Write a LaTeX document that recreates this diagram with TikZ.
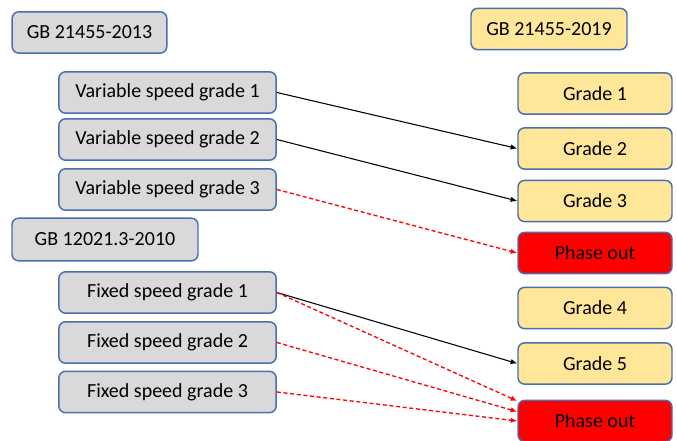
\documentclass[tikz,border=0pt]{standalone}
\usepackage{fontspec}
\setmainfont{Carlito}
\usepackage{xcolor}
\usetikzlibrary{arrows.meta}

\definecolor{boxblue}{HTML}{4A6FAE}
\definecolor{oldgray}{HTML}{D9D9D9}
\definecolor{newyellow}{HTML}{FFE699}
\definecolor{outred}{HTML}{FF0000}

\begin{document}
\begin{tikzpicture}[x=0.75pt,y=-0.75pt,
    box/.style={shape=rectangle,rounded corners=5pt,draw=boxblue,line width=1.1pt,
        inner sep=0pt,minimum height=31pt,font=\fontsize{15}{18}\selectfont},
    oldbox/.style={box,fill=oldgray,minimum width=163pt},
    newbox/.style={box,fill=newyellow,minimum width=115.5pt},
    outbox/.style={box,fill=outred,minimum width=115.5pt},
    keepline/.style={-{Latex[length=5pt,width=4pt]},black,line width=0.8pt},
    dropline/.style={-{Latex[length=5pt,width=4pt]},outred,line width=1pt,dash pattern=on 3pt off 2pt}]
                    \useasboundingbox (0,0) rectangle (677,441);

                    % old standards
                    \node[box,fill=oldgray,minimum width=116pt] (std13) at (89.5,32.5) {GB 21455-2013};
                    \node[oldbox] (var1) at (167.5,92.5) {Variable speed grade 1};
                    \node[oldbox] (var2) at (167.5,139.5) {Variable speed grade 2};
                    \node[oldbox] (var3) at (167.5,189.5) {Variable speed grade 3};
                    \node[box,fill=oldgray,minimum width=139.5pt,minimum height=32pt] (std10) at (105,239.5) {GB 12021.3-2010};
                    \node[oldbox] (fix1) at (167.5,292.5) {Fixed speed grade 1};
                    \node[oldbox] (fix2) at (167.5,342.5) {Fixed speed grade 2};
                    \node[oldbox] (fix3) at (167.5,392) {Fixed speed grade 3};

                    % new standard
                    \node[box,fill=newyellow,minimum width=117pt] (std19) at (549,29) {GB 21455-2019};
                    \node[newbox] (g1) at (595,93.5) {Grade 1};
                    \node[newbox] (g2) at (595,148.5) {Grade 2};
                    \node[newbox] (g3) at (595,201) {Grade 3};
                    \node[outbox] (po1) at (595,253) {Phase out};
                    \node[newbox] (g4) at (595,308) {Grade 4};
                    \node[newbox] (g5) at (595,363.5) {Grade 5};
                    \node[outbox] (po2) at (595,421) {Phase out};

                    % mappings
                    \path [keepline](var1.east) edge (g2.west);
                    \path [keepline](var2.east) edge (g3.west);
                    \path [dropline](var3.east) edge (po1.west);
                    \path [keepline](fix1.east) edge (g5.west);
                    \path [dropline](fix1.east) edge ([yshift=15pt]po2.west);
                    \path [dropline](fix2.east) edge ([yshift=7pt]po2.west);
                    \path [dropline](fix3.east) edge (po2.west);
                \end{tikzpicture}
\end{document}
